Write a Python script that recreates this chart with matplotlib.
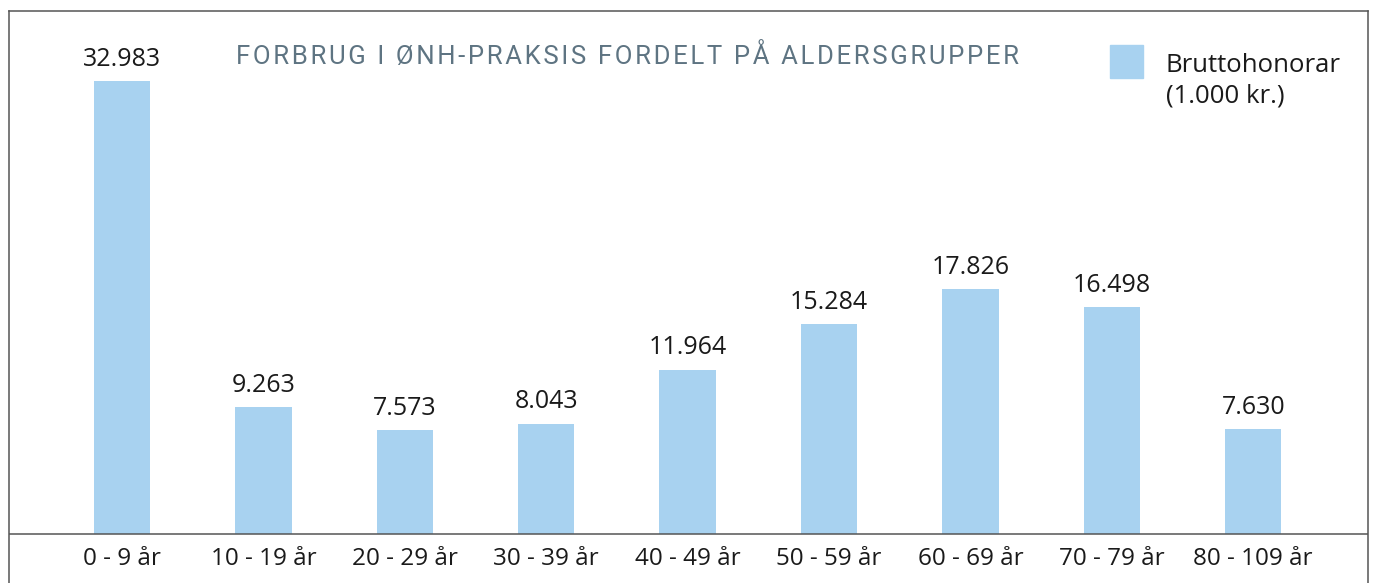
import matplotlib
matplotlib.use("Agg")
import matplotlib.pyplot as plt

# data (1.000 kr.)
age_groups = ["0 - 9 år", "10 - 19 år", "20 - 29 år", "30 - 39 år", "40 - 49 år",
              "50 - 59 år", "60 - 69 år", "70 - 79 år", "80 - 109 år"]
brutto = [32.983, 9.263, 7.573, 8.043, 11.964, 15.284, 17.826, 16.498, 7.630]

title = "FORBRUG I ØNH-PRAKSIS FORDELT PÅ ALDERSGRUPPER"
legend_label = "Bruttohonorar\n(1.000 kr.)"

BAR_COLOR = "#a8d2f0"
FRAME_COLOR = "#555555"
TITLE_COLOR = "#5e7482"
TEXT_COLOR = "#1a1a1a"

plt.rcParams["font.family"] = ["Open Sans", "DejaVu Sans"]

W, H = 1375, 583
fig = plt.figure(figsize=(W / 100, H / 100), dpi=100)

# axes box: frame left/right/top, runs off the bottom of the image
left_px, right_px, top_px, bottom_px = 9, 1368, 11, 600
ax = fig.add_axes([left_px / W, 1 - bottom_px / H,
                   (right_px - left_px) / W, (bottom_px - top_px) / H])

x = list(range(len(brutto)))
ax.bar(x, brutto, width=0.40, color=BAR_COLOR, zorder=2)

# scale: baseline at y=534px, 32.983 bar top at y=81px
px_per_unit = (534 - 81) / brutto[0]
ax.set_ylim(-(bottom_px - 534) / px_per_unit, (534 - top_px) / px_per_unit)
step = 141.4
ax.set_xlim((left_px - 122) / step, (right_px - 122) / step)

ax.axhline(0, color=FRAME_COLOR, lw=1.1, zorder=3)

for xi, v in zip(x, brutto):
    ax.annotate(f"{v:.3f}", (xi, v), xytext=(0, 11), textcoords="offset points",
                ha="center", va="baseline", fontsize=18, color=TEXT_COLOR)

for xi, lab in zip(x, age_groups):
    ax.text(xi, -25 / px_per_unit, lab, ha="center", va="center",
            fontsize=17.5, color=TEXT_COLOR)

for s in ["left", "right", "top"]:
    ax.spines[s].set_color(FRAME_COLOR)
    ax.spines[s].set_linewidth(1.1)
ax.spines["bottom"].set_visible(False)
ax.set_xticks([])
ax.set_yticks([])

# letter-spaced title
spaced_title = "\u200a".join(title)
fig.text(628 / W, 1 - 56 / H, spaced_title, ha="center", va="center",
         fontsize=18.5, color=TITLE_COLOR, family=["Roboto", "DejaVu Sans"])

# legend
fig.patches.append(plt.Rectangle((1110 / W, 1 - 78 / H), 33 / W, 33 / H,
                                 transform=fig.transFigure, color=BAR_COLOR))
fig.text(1166 / W, 1 - 81 / H, legend_label, ha="left", va="center",
         fontsize=18.5, color=TEXT_COLOR, linespacing=1.3)

fig.savefig("out.png", dpi=100)
